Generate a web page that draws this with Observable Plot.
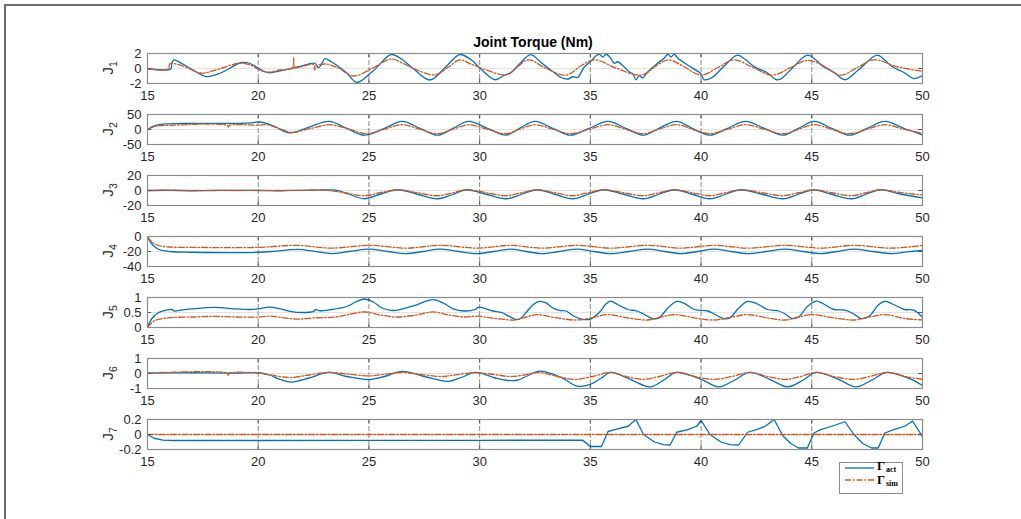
<!DOCTYPE html>
<html><head><meta charset="utf-8">
<script src="https://cdn.jsdelivr.net/npm/d3@7"></script>
<script src="https://cdn.jsdelivr.net/npm/@observablehq/plot@0.6"></script>
<style>
html,body{margin:0;padding:0;background:#fff;}
#root{position:relative;width:1021px;height:519px;overflow:hidden;background:#fff;font-family:"Liberation Sans",Arial,Helvetica,sans-serif;}
#frame{position:absolute;left:4px;top:4px;width:1030px;height:530px;border-top:2px solid #6e6e6e;border-left:2px solid #6e6e6e;}
.panel{position:absolute;left:0;}
.ylab{position:absolute;width:40px;height:20px;line-height:20px;text-align:center;font-size:15.5px;color:#262626;transform:rotate(-90deg);}
.ylab sub{font-size:10.5px;vertical-align:-4px;}
#title{position:absolute;left:0;width:1066px;top:34px;text-align:center;font-weight:bold;font-size:14px;color:#000;}
#legend{position:absolute;left:839px;top:462px;width:62px;height:30px;border:1px solid #8c8c8c;background:#fff;font-family:"Liberation Serif","Times New Roman",serif;}
.lrow{position:absolute;left:4px;height:12px;width:58px;}
.lrow svg{position:absolute;left:0;top:0;}
.lrow .g{position:absolute;left:33px;font-size:12.5px;line-height:11px;height:11px;font-weight:bold;color:#000;white-space:nowrap;}
.lrow .s{position:absolute;left:42px;font-size:8px;line-height:8px;height:8px;font-weight:bold;color:#000;white-space:nowrap;}
</style></head>
<body><div id="root"><div id="frame"></div><div id="title">Joint Torque (Nm)</div></div>
<script>
const xTicks = [15, 20, 25, 30, 35, 40, 45, 50];
const seriesNames = ["Γact", "Γsim"];
const jointNames = ["J1", "J2", "J3", "J4", "J5", "J6", "J7"];

const j1Ticks = [-2, 0, 2];
const j2Ticks = [-50, 0, 50];
const j3Ticks = [-20, 0, 20];
const j4Ticks = [-40, -20, 0];
const j5Ticks = [0, 0.5, 1];
const j6Ticks = [-1, 0, 1];
const j7Ticks = [-0.2, 0, 0.2];

// [time, torque]
const j1Act = [[15,0],[16.05,-0.05],[16.1,0.7],[16.2,1.15],[16.5,0.75],[17.0,-0.1],[17.66,-1.07],[18.3,-0.6],[19.25,0.8],[19.6,0.7],[20.45,-0.56],[21.0,-0.3],[21.8,0.2],[22.56,0.7],[22.7,0.1],[22.85,0.5],[23.0,1.3],[23.3,0.9],[23.7,0.1],[24.0,-0.6],[24.45,-1.86],[25.2,-0.3],[26.0,1.86],[26.5,1.2],[27.0,0],[27.75,-1.53],[28.4,0],[29.1,1.86],[29.6,1.2],[30.0,0.1],[30.7,-1.5],[31.1,-0.9],[31.4,-0.6],[31.8,0.6],[32.3,1.85],[32.7,1.0],[32.92,0.45],[33.3,-0.4],[33.68,-1.2],[33.98,-1.4],[34.2,-1.1],[34.43,-1.2],[34.7,0.1],[35.0,0.9],[35.26,1.7],[35.41,1.9],[35.56,1.55],[35.71,1.9],[35.86,1.6],[36.08,0.7],[36.23,0.9],[36.53,0.2],[36.76,-0.46],[36.91,-0.7],[37.06,-1.5],[37.21,-0.95],[37.36,-1.25],[37.59,-0.46],[38.04,0.7],[38.34,1.4],[38.49,1.9],[38.64,1.55],[38.79,1.9],[38.94,1.4],[39.39,0.46],[39.99,-0.7],[40.14,-1.5],[40.5,-1.2],[41.0,0.2],[41.65,1.77],[42.0,1.2],[42.4,0.25],[43.0,-0.6],[43.4,-1.5],[43.6,-1.4],[44.1,0],[44.8,1.77],[45.2,1.1],[45.5,0.3],[46.0,-0.5],[46.5,-1.5],[47.1,-0.2],[47.95,1.77],[48.3,1.1],[48.6,0.3],[49.2,-0.6],[49.6,-1.35],[50,-0.93]];
const j1Sim = [[15,-0.05],[15.95,-0.05],[16.0,0.6],[16.3,0.6],[16.8,0.1],[17.4,-0.6],[18.2,-0.1],[19.1,0.7],[19.6,0.5],[20.3,-0.46],[21.0,-0.2],[21.55,0.1],[21.6,1.4],[21.65,0.15],[22.1,0.35],[22.5,0.55],[22.55,-0.2],[22.6,0.3],[23.0,0.6],[23.6,0.1],[24.3,-1.0],[25.2,0.1],[26.0,1.25],[26.6,0.6],[27.0,0],[28.0,-0.84],[28.6,0.2],[29.1,1.16],[29.6,0.6],[30.3,-0.2],[31.2,-0.84],[31.7,0.2],[32.2,1.16],[33.0,0],[33.9,-0.88],[34.6,0.4],[35.2,1.16],[36.2,0],[37.3,-0.88],[38.0,0.4],[38.5,1.16],[39.2,0.3],[40.0,-0.88],[40.8,0.2],[41.5,1.16],[42.3,0.2],[43.2,-0.88],[44.1,0.2],[44.8,1.1],[45.5,0.4],[46.3,-0.88],[47.1,0.2],[47.8,1.16],[48.9,0.2],[50,-0.37]];

const j2Act = [[15,0],[15.3,12],[15.7,18],[16.5,20],[18,20.5],[19.5,21],[20.0,25],[20.3,22],[20.8,8],[21.4,-11],[22.3,8],[23.2,27],[24.0,4],[24.8,-19],[25.7,4],[26.5,27],[27.3,4],[28.1,-19],[28.8,4],[29.5,27],[30.35,4],[31.2,-19],[31.8,4],[32.5,27],[33.3,4],[34.1,-19],[34.95,4],[35.8,27],[36.6,4],[37.4,-19],[38.1,4],[38.9,27],[39.6,4],[40.4,-19],[41.2,4],[42.0,27],[42.85,4],[43.7,-19],[44.4,4],[45.1,27],[45.9,4],[46.7,-19],[47.5,4],[48.3,27],[49.15,4],[50,-18]];
const j2Sim = [[15,0],[15.4,11],[16,14],[18.6,14],[18.65,8],[18.7,14],[20,14.5],[20.4,16],[21.0,2],[21.5,-10],[22.4,4],[23.3,16],[24.1,1],[24.9,-14],[25.7,1],[26.5,16],[27.3,1],[28.1,-14],[28.8,1],[29.5,16],[30.35,1],[31.2,-14],[31.8,1],[32.5,16],[33.3,1],[34.1,-14],[34.95,1],[35.8,16],[36.6,1],[37.4,-14],[38.1,1],[38.9,16],[39.6,1],[40.4,-14],[41.2,1],[42.0,16],[42.85,1],[43.7,-14],[44.4,1],[45.1,16],[45.9,1],[46.7,-14],[47.5,1],[48.3,16],[49.15,1],[50,-13]];

const j3Act = [[15,0],[16,0.3],[17,-0.3],[18,0],[19,0.3],[20,0],[21,-0.3],[22,0.3],[23,0.8],[23.5,0.4],[24.1,-5],[24.8,-11],[25.5,-5],[26.3,1],[27.2,-5],[28.1,-11],[28.8,-5],[29.4,1],[30.3,-5],[31.2,-11],[31.9,-5],[32.6,1],[33.4,-5],[34.2,-11],[34.9,-5],[35.6,1],[36.5,-5],[37.4,-11],[38.1,-5],[38.8,1],[39.6,-5],[40.4,-11],[41.1,-5],[41.8,1],[42.75,-5],[43.7,-11],[44.4,-5],[45.1,1],[45.9,-5],[46.8,-11],[47.45,-5],[48.1,1],[49.05,-5],[50,-10]];
const j3Sim = [[15,0],[16,0.5],[17,0],[18,0.2],[19,0],[20,0.2],[21,0],[22,0.3],[23,0.5],[23.9,-3],[24.8,-7],[25.5,-3],[26.3,1],[27.2,-3],[28.1,-7],[28.8,-3],[29.4,1],[30.3,-3],[31.2,-7],[31.9,-3],[32.6,1],[33.4,-3],[34.2,-7],[34.9,-3],[35.6,1],[36.5,-3],[37.4,-7],[38.1,-3],[38.8,1],[39.6,-3],[40.4,-7],[41.1,-3],[41.8,1],[42.75,-3],[43.7,-7],[44.4,-3],[45.1,1],[45.9,-3],[46.8,-7],[47.45,-3],[48.1,1],[49.05,-3],[50,-6]];

const j4Act = [[15,0],[15.2,-10],[15.5,-17],[16,-20],[17,-21],[20,-21],[20.8,-19.5],[21.8,-17.3],[22.5,-19.5],[23.3,-22.7],[24.1,-20],[25.0,-16.8],[25.85,-20],[26.7,-22.7],[27.45,-20],[28.2,-16.8],[29.05,-20],[29.9,-22.7],[30.65,-20],[31.4,-16.8],[32.1,-20],[32.8,-22.7],[33.6,-20],[34.4,-16.8],[35.15,-20],[35.9,-22.7],[36.75,-20],[37.6,-16.8],[38.35,-20],[39.1,-22.7],[39.85,-20],[40.6,-16.8],[41.35,-20],[42.1,-22.7],[42.95,-20],[43.8,-16.8],[44.6,-20],[45.4,-22.7],[46.15,-20],[46.9,-16.8],[47.75,-20],[48.6,-22.7],[49.3,-20.5],[50,-18.5]];
const j4Sim = [[15,0],[15.2,-7],[15.5,-12],[16,-14],[17,-14.5],[20,-14.5],[21.7,-11.8],[23.3,-15.5],[25.0,-11.8],[26.7,-15.5],[28.2,-11.8],[29.9,-15.5],[31.4,-11.8],[32.8,-15.5],[34.4,-11.8],[35.9,-15.5],[37.6,-11.8],[39.1,-15.5],[40.6,-11.8],[42.1,-15.5],[43.8,-11.8],[45.4,-15.5],[46.9,-11.8],[48.6,-15.5],[50,-11.8]];

const j5Act = [[15,0],[15.2,0.3],[15.5,0.5],[15.8,0.57],[16.1,0.6],[16.2,0.55],[16.5,0.58],[17,0.62],[18,0.67],[19,0.62],[19.6,0.6],[20.0,0.62],[20.5,0.68],[21.0,0.62],[21.5,0.53],[22.0,0.5],[22.5,0.54],[22.6,0.6],[22.75,0.56],[23.3,0.6],[24.0,0.7],[24.4,0.85],[24.8,0.95],[25.2,0.85],[25.6,0.65],[26.0,0.57],[26.3,0.58],[27.0,0.72],[27.9,0.93],[28.4,0.8],[28.8,0.62],[29.3,0.55],[29.8,0.6],[29.95,0.68],[30.3,0.62],[30.6,0.55],[31.0,0.5],[31.3,0.38],[31.6,0.28],[31.8,0.28],[32.1,0.5],[32.4,0.75],[32.7,0.87],[33.0,0.82],[33.3,0.65],[33.6,0.57],[33.9,0.55],[34.2,0.4],[34.6,0.28],[35,0.28],[35.4,0.5],[35.7,0.78],[35.9,0.88],[36.1,0.82],[36.4,0.7],[36.7,0.6],[37.1,0.55],[37.4,0.45],[37.8,0.3],[38.1,0.32],[38.5,0.65],[38.9,0.87],[39.2,0.82],[39.7,0.6],[40.3,0.55],[40.6,0.45],[41.0,0.3],[41.3,0.32],[41.7,0.65],[42.1,0.87],[42.5,0.8],[43.0,0.6],[43.5,0.55],[43.8,0.45],[44.1,0.3],[44.4,0.35],[44.8,0.7],[45.2,0.88],[45.5,0.8],[46.0,0.6],[46.5,0.58],[46.9,0.45],[47.2,0.3],[47.6,0.38],[48.0,0.75],[48.3,0.87],[48.6,0.8],[49.2,0.6],[49.6,0.58],[50,0.34]];
const j5Sim = [[15,0],[15.3,0.22],[15.7,0.3],[16,0.33],[17,0.35],[18,0.37],[19,0.35],[20,0.35],[20.5,0.38],[21.2,0.32],[21.8,0.28],[22.5,0.32],[23.5,0.35],[24.2,0.45],[24.8,0.52],[25.5,0.42],[26.2,0.35],[27.0,0.4],[27.9,0.52],[28.6,0.42],[29.3,0.35],[29.9,0.38],[30.5,0.32],[31.0,0.28],[31.6,0.25],[32.1,0.35],[32.6,0.43],[33.4,0.33],[34.4,0.25],[35.1,0.33],[35.8,0.43],[36.7,0.32],[37.6,0.25],[38.2,0.35],[38.8,0.43],[39.7,0.32],[40.6,0.25],[41.4,0.35],[42.1,0.43],[43.0,0.32],[43.8,0.25],[44.4,0.35],[45.0,0.43],[46.0,0.32],[46.9,0.25],[47.6,0.35],[48.3,0.43],[49.2,0.3],[50,0.25]];

const j6Act = [[15,0.02],[17,0.05],[19,0.03],[20,0.05],[20.5,-0.1],[21.0,-0.4],[21.5,-0.57],[22.3,-0.3],[23.2,0.07],[24.0,-0.2],[25.0,-0.4],[25.7,-0.2],[26.5,0.14],[27.5,-0.2],[28.6,-0.52],[29.2,-0.25],[29.8,0.07],[30.7,-0.3],[31.2,-0.45],[31.7,-0.45],[32.1,-0.2],[32.7,0.16],[33.7,-0.27],[34.4,-0.84],[35.0,-0.73],[35.5,-0.3],[35.9,0.07],[36.8,-0.39],[37.7,-0.89],[38.3,-0.45],[38.9,0.07],[40.0,-0.39],[40.8,-0.89],[41.5,-0.45],[42.2,0.07],[43.1,-0.39],[43.9,-0.89],[44.6,-0.45],[45.2,0.07],[46.2,-0.39],[47.0,-0.89],[47.7,-0.45],[48.4,0.07],[49.5,-0.39],[50,-0.8]];
const j6Sim = [[15,0.02],[18.6,0.02],[18.65,-0.12],[18.7,0.02],[20,0.03],[20.5,-0.08],[21.4,-0.27],[22.3,-0.1],[23.2,0.07],[24.1,-0.05],[25,-0.16],[25.7,-0.05],[26.5,0.07],[27.4,-0.07],[28.3,-0.2],[29.0,-0.07],[29.8,0.05],[30.7,-0.08],[31.4,-0.2],[32.0,-0.1],[32.7,0.07],[33.5,-0.2],[34.3,-0.39],[35.1,-0.2],[35.9,0.07],[36.6,-0.2],[37.4,-0.39],[38.1,-0.2],[38.9,0.07],[39.7,-0.2],[40.6,-0.39],[41.4,-0.2],[42.2,0.07],[43.0,-0.2],[43.8,-0.39],[44.5,-0.2],[45.2,0.07],[46.0,-0.2],[46.9,-0.39],[47.6,-0.2],[48.4,0.07],[49.2,-0.2],[50,-0.39]];

const j7Act = [[15,0],[15.3,-0.05],[15.7,-0.075],[16.2,-0.08],[20,-0.08],[25,-0.078],[30,-0.077],[34.65,-0.075],[35.0,-0.16],[35.5,-0.16],[35.8,0.04],[36.1,0.065],[36.7,0.11],[37.06,0.2],[37.4,0.0],[37.9,-0.1],[38.3,-0.135],[38.6,-0.14],[38.9,0.03],[39.4,0.065],[39.8,0.11],[40.0,0.19],[40.4,0.0],[40.9,-0.1],[41.3,-0.135],[41.7,-0.14],[42.1,0.03],[42.5,0.065],[42.9,0.11],[43.3,0.2],[43.7,-0.02],[44.05,-0.12],[44.4,-0.18],[44.8,-0.18],[45.1,0.02],[45.4,0.065],[45.9,0.11],[46.5,0.17],[46.9,0.0],[47.3,-0.12],[47.7,-0.18],[48.0,-0.18],[48.3,0.02],[48.7,0.065],[49.2,0.11],[49.55,0.18],[50,-0.03]];
const j7Sim = [[15,0],[50,0]];

const panels = [
  {act: j1Act, sim: j1Sim, ticks: j1Ticks, curve: "catmull-rom"},
  {act: j2Act, sim: j2Sim, ticks: j2Ticks, curve: "catmull-rom"},
  {act: j3Act, sim: j3Sim, ticks: j3Ticks, curve: "catmull-rom"},
  {act: j4Act, sim: j4Sim, ticks: j4Ticks, curve: "catmull-rom"},
  {act: j5Act, sim: j5Sim, ticks: j5Ticks, curve: "catmull-rom"},
  {act: j6Act, sim: j6Sim, ticks: j6Ticks, curve: "catmull-rom"},
  {act: j7Act, sim: j7Sim, ticks: j7Ticks, curve: "linear"}
];

const root = document.getElementById("root");
const W = 1021, ML = 147, MR = 99, MT = 5, MB = 26, PH = 30;
const PW = W - ML - MR;
const BLUE = "#0072BD", ORANGE = "#D95319";
const FONT = "'Liberation Sans', Arial, Helvetica, sans-serif";

panels.forEach((p, i) => {
  const top = 53 + i * 61;
  const chart = Plot.plot({
    width: W, height: MT + PH + MB,
    marginLeft: ML, marginRight: MR, marginTop: MT, marginBottom: MB,
    x: {domain: [xTicks[0], xTicks[xTicks.length - 1]]},
    y: {domain: [p.ticks[0], p.ticks[p.ticks.length - 1]]},
    style: {fontFamily: FONT, fontSize: "13px", color: "#262626", background: "transparent", overflow: "visible"},
    marks: [
      Plot.ruleY(p.ticks, {stroke: "#e2e2e2", strokeWidth: 1.2}),
      Plot.ruleX(xTicks.slice(1, -1), {stroke: "#8a8a8a", strokeWidth: 1, strokeDasharray: "5,2"}),
      Plot.line(p.act, {x: d => d[0], y: d => d[1], stroke: BLUE, strokeWidth: 1.3, curve: p.curve, clip: true}),
      Plot.line(p.sim, {x: d => d[0], y: d => d[1], stroke: ORANGE, strokeWidth: 1.3, strokeDasharray: "6,2,1.5,2", curve: p.curve, clip: true}),
      Plot.tickY(p.ticks, {y: d => d, insetRight: PW - 4, stroke: "#555"}),
      Plot.tickY(p.ticks, {y: d => d, insetLeft: PW - 4, stroke: "#555"}),
      Plot.tickX(xTicks, {x: d => d, insetBottom: PH - 4, stroke: "#555"}),
      Plot.tickX(xTicks, {x: d => d, insetTop: PH - 4, stroke: "#555"}),
      Plot.frame({stroke: "#8c8c8c", strokeWidth: 1.2}),
      Plot.axisX({ticks: xTicks, tickSize: 0, tickPadding: 7, label: null, tickFormat: d => String(d), fontSize: 13}),
      Plot.axisY({ticks: p.ticks, tickSize: 0, tickPadding: 6, label: null, tickFormat: d => String(d), fontSize: 13})
    ]
  });
  chart.classList.add("panel");
  chart.style.top = (top - MT) + "px";
  root.appendChild(chart);

  const lab = document.createElement("div");
  lab.className = "ylab";
  lab.innerHTML = jointNames[i].slice(0, 1) + "<sub>" + jointNames[i].slice(1) + "</sub>";
  lab.style.left = (108 - 20) + "px";
  lab.style.top = (top + PH / 2 - 10) + "px";
  root.appendChild(lab);
});

// legend
const legend = document.createElement("div");
legend.id = "legend";
[[BLUE, null, 5, -2], [ORANGE, "6,2,1.5,2", 17, 0]].forEach(([c, dash, y, gOff], k) => {
  const row = document.createElement("div");
  row.className = "lrow";
  row.style.top = (y - 5) + "px";
  row.innerHTML = `<svg width="32" height="10"><line x1="1" y1="5" x2="30" y2="5" stroke="${c}" stroke-width="1.3" ${dash ? `stroke-dasharray="${dash}"` : ""}/></svg><span class="g" style="top:${gOff}px">${seriesNames[k].slice(0,1)}</span><span class="s" style="top:${gOff + 5}px">${seriesNames[k].slice(1)}</span>`;
  legend.appendChild(row);
});
root.appendChild(legend);
</script>
</body></html>
